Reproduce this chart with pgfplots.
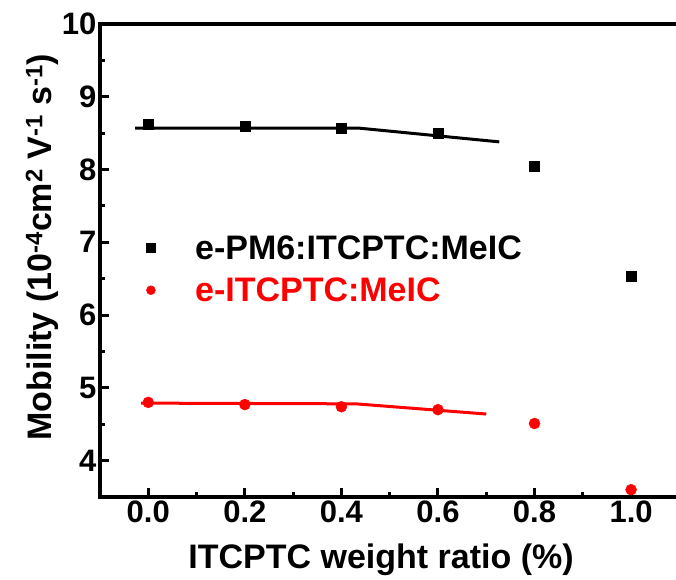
\documentclass[border=0pt]{standalone}
\usepackage{pgfplots}
\pgfplotsset{compat=1.18}
\usepackage{fontspec}
\setmainfont{Liberation Sans}
\begin{document}
\begin{tikzpicture}
\begin{axis}[
  scale only axis, width=576pt, height=473pt,
  xmin=-0.1, xmax=1.093, ymin=3.5, ymax=10,
  axis x line=box, axis y line=left,
  axis line style={-, line width=3.5pt, line cap=rect},
  x axis line style={-}, y axis line style={-},
  xtick={0,0.2,0.4,0.6,0.8,1.0}, ytick={4,5,6,7,8,9,10},
  minor x tick num=1, minor y tick num=1,
  tick align=inside, xtick pos=bottom, ytick pos=left,
  major tick length=9pt, minor tick length=5pt,
  every tick/.style={line width=3pt, black},
  /pgf/number format/assume math mode=true,
  tick label style={font=\fontsize{31}{31}\selectfont\bfseries},
  xticklabel style={/pgf/number format/.cd, fixed, fixed zerofill, precision=1},
  yticklabel style={/pgf/number format/.cd, fixed, precision=0},
  xlabel={ITCPTC weight ratio (\%)},
  ylabel={Mobility (10\textsuperscript{-4}cm\textsuperscript{2} V\textsuperscript{-1} s\textsuperscript{-1})},
  label style={font=\fontsize{34}{34}\selectfont\bfseries},
  xlabel style={at={(axis description cs:0.488,-0.133)}, anchor=center},
  ylabel style={at={(axis description cs:-0.1007,0.528)}, anchor=center},
  legend style={draw=none, fill=none, at={(axis description cs:0.075,0.562)}, anchor=north west,
    font=\fontsize{34}{34}\selectfont\bfseries, row sep=13pt, cells={anchor=west}},
  legend image code/.code={\path (-2pt,0pt) (42pt,0pt); \draw[#1] plot coordinates {(0pt,0pt)};},
  legend image post style={mark size=4.5pt},
]
\addplot[black, line width=3pt, forget plot] coordinates {(-0.027,8.57) (0.435,8.57) (0.727,8.38)};
\addplot[red, line width=3pt, forget plot] coordinates {(-0.015,4.79) (0.43,4.78) (0.70,4.64)};
\addplot[only marks, mark=square*, mark size=5pt, black] coordinates {
  (0.0,8.62) (0.2,8.60) (0.4,8.57) (0.6,8.50) (0.8,8.05) (1.0,6.53)};
\addlegendentry{e-PM6:ITCPTC:MeIC}
\addplot[only marks, mark=*, mark size=5.5pt, red] coordinates {
  (0.0,4.80) (0.2,4.77) (0.4,4.74) (0.6,4.70) (0.8,4.51) (1.0,3.60)};
\addlegendentry{\textcolor{red}{e-ITCPTC:MeIC}}
\end{axis}
\path (current axis.south west) ++(-100pt,-83pt) coordinate (bbA);
\path (current axis.north east) ++(0pt,24pt) coordinate (bbB);
\pgfresetboundingbox
\useasboundingbox (bbA) rectangle (bbB);
\end{tikzpicture}
\end{document}
